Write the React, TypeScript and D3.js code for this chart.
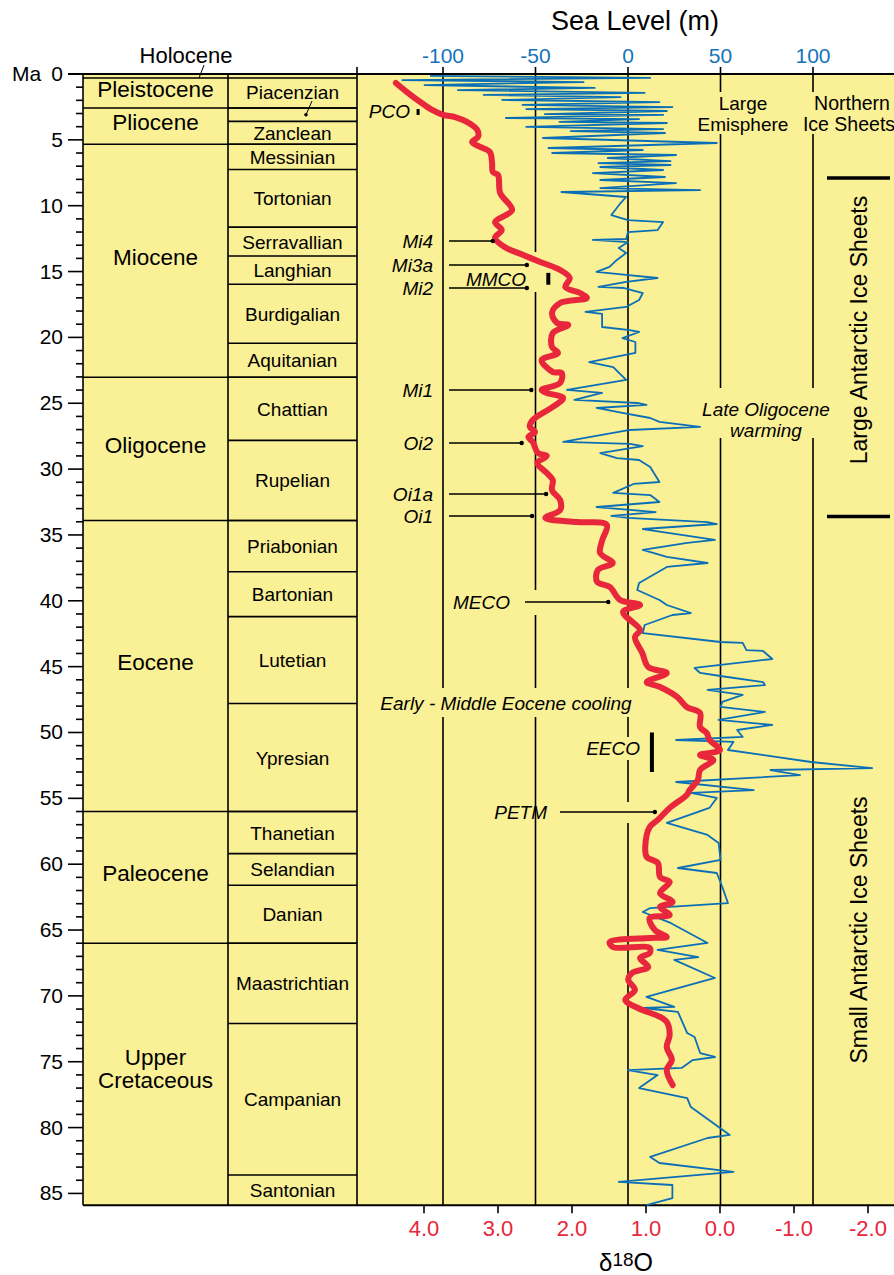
import React from "react";
import * as d3 from "d3";

const W = 894;
const H = 1275;
const FF = "'Liberation Sans', Arial, Helvetica, sans-serif";
const YELLOW = "#faf096";
const RED = "#e8263c";
const BLUE = "#0b6fb8";
const BLUE_TXT = "#1673bb";

// ---- Geologic time scale (Ma) ----
const epochNames = ["Holocene", "Pleistocene", "Pliocene", "Miocene", "Oligocene", "Eocene", "Paleocene", "Upper Cretaceous"];
const epochBase = [0.0117, 2.58, 5.333, 23.03, 33.9, 56.0, 66.0, 85.9];
const stageNames = ["", "Piacenzian", "Zanclean", "Messinian", "Tortonian", "Serravallian", "Langhian", "Burdigalian", "Aquitanian", "Chattian", "Rupelian", "Priabonian", "Bartonian", "Lutetian", "Ypresian", "Thanetian", "Selandian", "Danian", "Maastrichtian", "Campanian", "Santonian"];
const stageBase = [2.58, 3.6, 5.333, 7.246, 11.63, 13.82, 15.97, 20.44, 23.03, 27.82, 33.9, 37.8, 41.2, 47.8, 56.0, 59.2, 61.6, 66.0, 72.1, 83.6, 85.9];

// ---- Axes ----
const ageTicks = d3.range(0, 86, 1);
const ageLabels = d3.range(0, 86, 5);
const seaTicks = [-100, -50, 0, 50, 100];
const d18OTicks = [4, 3, 2, 1, 0, -1, -2];

// ---- δ18O curve [age Ma, δ18O ‰] ----
const d18OCurve: [number, number][] = [
  [0.68, 4.38], [1.37, 4.23], [2.13, 4.05], [2.73, 3.89], [3.11, 3.74], [3.27, 3.58], [3.64, 3.42], [4.25, 3.28],
  [4.78, 3.27], [5.16, 3.35], [5.54, 3.24], [5.92, 3.11], [6.76, 3.08], [7.44, 3.07], [7.67, 3.0], [9.04, 2.97],
  [10.33, 2.81], [11.24, 3.04], [11.85, 2.95], [12.45, 3.04], [13.14, 2.91], [13.74, 2.66], [14.27, 2.43], [14.88, 2.16],
  [15.49, 2.03], [16.17, 2.09], [16.63, 1.89], [17.01, 1.8], [17.39, 2.16], [18.15, 2.27], [18.91, 2.2], [19.06, 2.05],
  [19.67, 2.26], [20.73, 2.27], [21.18, 2.19], [21.72, 2.41], [22.63, 2.26], [22.7, 2.14], [23.46, 2.16], [23.99, 2.41],
  [24.22, 2.34], [24.6, 2.12], [25.28, 2.26], [26.27, 2.53], [26.8, 2.57], [27.18, 2.5], [27.56, 2.59], [27.94, 2.53],
  [28.78, 2.46], [29.0, 2.34], [29.54, 2.47], [30.3, 2.34], [30.83, 2.26], [31.59, 2.27], [32.35, 2.16], [33.11, 2.16],
  [33.71, 2.36], [34.02, 1.93], [34.24, 1.53], [35.38, 1.59], [36.37, 1.62], [37.13, 1.45], [37.66, 1.65], [38.57, 1.66],
  [38.95, 1.49], [39.94, 1.35], [40.32, 1.08], [40.85, 1.31], [42.22, 1.08], [42.75, 1.15], [43.96, 1.05], [45.03, 0.97],
  [45.48, 0.72], [46.17, 0.99], [46.55, 0.81], [47.3, 0.58], [48.06, 0.45], [48.52, 0.27], [49.58, 0.27], [50.04, 0.18],
  [50.57, 0.14], [51.33, 0.0], [51.71, 0.27], [52.09, 0.09], [52.85, 0.27], [53.61, 0.3], [54.37, 0.41], [54.75, 0.45],
  [55.73, 0.68], [56.64, 0.84], [57.18, 0.95], [58.69, 1.01], [59.45, 0.99], [59.91, 0.84], [60.97, 0.81], [61.35, 0.68],
  [62.19, 0.81], [62.87, 0.64], [63.25, 0.81], [63.86, 0.68], [64.09, 0.95], [65.0, 0.88], [65.53, 0.72], [65.6, 0.95],
  [65.91, 1.49], [66.29, 1.45], [66.35, 0.95], [66.74, 0.95], [67.12, 1.08], [67.81, 0.97], [68.26, 1.19], [68.79, 1.24],
  [69.55, 1.15], [70.31, 1.28], [70.92, 1.11], [71.6, 0.81], [71.98, 0.72], [72.97, 0.68], [73.88, 0.72], [74.87, 0.65],
  [75.63, 0.72], [76.77, 0.64],
];

// ---- Sea level curve [age Ma, sea level m] ----
const seaLevelCurve: [number, number][] = [
  [0.15, -107], [0.3, 12], [0.46, -122], [0.61, -24], [0.84, -110], [1.06, -18], [1.22, -92], [1.44, 9],
  [1.59, -78], [1.75, -4], [1.97, -68], [2.13, 17], [2.35, -57], [2.51, 24], [2.66, -55], [2.81, 21],
  [3.04, -45], [3.11, 19], [3.34, -66], [3.42, 6], [3.64, -37], [3.72, 21], [4.02, -55], [4.18, 19],
  [4.33, -31], [4.48, 20], [4.86, -46], [5.24, 48], [5.62, -43], [5.77, 8], [6.0, -41], [6.15, 26],
  [6.38, -11], [6.61, 23], [6.76, -16], [6.91, 23], [7.06, -15], [7.29, 19], [7.52, -19], [7.82, 20],
  [8.05, -15], [8.28, 26], [8.66, -15], [8.81, 39], [8.96, -36], [9.34, -1], [9.8, -4], [10.71, -9],
  [11.09, 0], [11.24, 19], [11.85, 16], [12.0, 0], [12.53, -1], [12.6, -19], [12.76, 0], [13.21, -5],
  [13.59, -1], [14.12, -6], [14.65, -10], [15.03, -17], [15.26, -1], [15.49, 16], [15.79, -1], [16.17, -16],
  [16.25, -2], [16.63, 8], [17.16, 6], [17.69, -1], [18.07, -23], [18.22, -14], [19.21, -14], [19.44, 1],
  [19.59, 6], [20.05, -3], [20.35, 4], [21.18, 4], [21.87, -21], [22.25, -8], [23.23, -1], [23.99, -33],
  [24.22, -14], [24.75, -29], [24.98, 5], [25.13, 10], [25.36, -17], [25.74, -3], [26.12, 12], [26.42, 17],
  [26.8, 39], [27.03, 1], [27.64, -24], [27.94, -35], [28.09, 1], [28.25, 8], [28.78, -15], [29.16, -6],
  [29.31, 6], [29.84, 12], [30.98, 17], [31.13, 3], [31.81, -8], [31.97, 12], [32.5, 17], [32.88, -17],
  [33.26, 15], [33.56, -9], [33.71, 0], [34.02, 43], [34.17, 48], [34.55, 8], [35.38, 47], [35.61, 32],
  [36.14, 8], [36.67, 21], [37.13, 43], [37.43, 21], [38.65, 6], [39.18, 5], [39.94, 17], [40.32, 21],
  [40.93, 34], [41.08, 24], [41.84, 9], [42.45, 8], [43.13, 50], [43.2, 62], [43.74, 64], [43.81, 73],
  [44.42, 78], [45.1, 36], [45.48, 39], [45.71, 50], [46.17, 73], [46.4, 74], [46.77, 43], [47.15, 62],
  [47.68, 51], [48.06, 50], [48.44, 74], [49.05, 49], [49.43, 78], [49.81, 59], [50.34, 62], [50.57, 26],
  [50.72, 57], [51.33, 54], [52.24, 99], [52.7, 132], [52.85, 77], [53.23, 93], [53.76, 26], [54.37, 68],
  [54.59, 34], [54.97, 48], [55.73, 44], [56.87, 21], [57.78, 43], [58.39, 49], [59.68, 50], [60.29, 27],
  [60.67, 48], [61.73, 51], [62.95, 54], [63.33, 12], [63.63, 8], [64.46, 23], [65.98, 43], [66.51, 16],
  [67.05, 38], [67.27, 25], [68.64, 47], [70.08, 10], [70.84, 25], [70.92, 8], [71.22, 27], [72.82, 32],
  [73.12, 36], [74.34, 39], [74.64, 47], [74.87, 35], [75.47, 29], [75.63, 0], [76.01, 16], [77.0, 6],
  [77.76, 32], [78.44, 34], [80.56, 55], [80.79, 43], [82.23, 12], [82.69, 17], [83.37, 57], [84.13, -5],
  [84.36, 24], [85.35, 24], [85.88, 10],
];

// ---- Events (arrows to δ18O curve) ----
const eventNames = ["Mi4", "Mi3a", "Mi2", "Mi1", "Oi2", "Oi1a", "Oi1"];
const eventAge = [12.68, 14.5, 16.25, 23.99, 28.02, 31.89, 33.56];
const eventD18O = [3.07, 2.61, 2.61, 2.55, 2.68, 2.35, 2.54];
const mecoEvent = { name: "MECO", age: 40.09, d18O: 1.51 };
const petmEvent = { name: "PETM", age: 56.04, d18O: 0.88 };

// ---- Climatic optima (intervals) ----
const optimaNames = ["PCO", "MMCO", "EECO"];
const optimaStart = [2.66, 15.1, 50.0];
const optimaEnd = [3.11, 16.0, 53.0];
const optimaD18O = [4.08, 2.32, 0.92];

// ---- Ice sheet regimes ----
const largeIceStart = 7.9;
const largeIceEnd = 33.6;

export default function App() {
  const y = d3.scaleLinear().domain([0, 86]).range([74, 1206.6]);
  const xSea = d3.scaleLinear().domain([-100, 100]).range([443, 813]);
  const xD = d3.scaleLinear().domain([4, -2]).range([424, 868]);

  const top = y(0);
  const bottom = y(85.9);
  const colL = 83, colM = 228, colR = 357;
  const holoY = Math.max(y(epochBase[0]), top + 4);

  const redLine = d3.line<[number, number]>()
    .x((d) => xD(d[1]))
    .y((d) => y(d[0]))
    .curve(d3.curveCatmullRom.alpha(0.5));
  const blueLine = d3.line<[number, number]>()
    .x((d) => xSea(d[1]))
    .y((d) => y(d[0]));

  // gaps (in px) in the vertical reference lines where text passes
  const gridGaps: Record<string, [number, number][]> = {
    "-100": [[688, 717]],
    "-50": [[252, 292], [590, 615], [688, 717]],
    "0": [[688, 717], [737, 760], [802, 823]],
    "50": [[92, 134], [388, 438]],
    "100": [[92, 134], [388, 438]],
  };
  const segs = (y0: number, y1: number, gaps: [number, number][]) => {
    const out: [number, number][] = [];
    let cur = y0;
    gaps.forEach(([a, b]) => { out.push([cur, a]); cur = b; });
    out.push([cur, y1]);
    return out;
  };

  const epochTops = [0, ...epochBase.slice(0, -1)];
  const stageTops = [epochBase[0], ...stageBase.slice(0, -1)];
  const yTop = (a: number) => (a === 0 ? top : a === epochBase[0] ? holoY : y(a));

  const txt = { fontFamily: FF } as const;

  return (
    <svg width={W} height={H} viewBox={`0 0 ${W} ${H}`} style={{ position: "absolute", left: 0, top: 0, display: "block", background: "#fff" }}>
      {/* backgrounds */}
      <rect x={colL} y={top} width={W - colL} height={bottom - top} fill={YELLOW} />

      {/* vertical grid lines at sea level ticks */}
      {seaTicks.map((t) =>
        segs(67, bottom, gridGaps[String(t)]).map(([a, b], i) => (
          <line key={`g${t}-${i}`} x1={xSea(t)} x2={xSea(t)} y1={a} y2={b} stroke="#000" strokeWidth={1.6} />
        ))
      )}

      {/* time scale columns */}
      <line x1={colL} x2={colL} y1={top} y2={bottom} stroke="#000" strokeWidth={1.6} />
      <line x1={colM} x2={colM} y1={top} y2={bottom} stroke="#000" strokeWidth={1.6} />
      <line x1={colR} x2={colR} y1={67} y2={bottom} stroke="#000" strokeWidth={1.6} />
      <line x1={colL} x2={colR} y1={holoY} y2={holoY} stroke="#000" strokeWidth={1.4} />
      {epochBase.slice(1, -1).map((b, i) => (
        <line key={`eb${i}`} x1={colL} x2={colR} y1={y(b)} y2={y(b)} stroke="#000" strokeWidth={1.6} />
      ))}
      {stageBase.slice(0, -1).map((b, i) => (
        <line key={`sb${i}`} x1={colM} x2={colR} y1={y(b)} y2={y(b)} stroke="#000" strokeWidth={1.6} />
      ))}

      {/* epoch labels */}
      {epochNames.map((n, i) => {
        const t = yTop(epochTops[i]);
        const b = y(epochBase[i]);
        const cx = (colL + colM) / 2;
        if (b - t < 10) {
          return (
            <g key={`e${i}`}>
              <text x={186} y={63} textAnchor="middle" fontSize={22} style={txt}>{n}</text>
              <line x1={204} y1={65} x2={199} y2={(t + holoY) / 2 + 2} stroke="#000" strokeWidth={1} />
            </g>
          );
        }
        const words = n.split(" ");
        const cy = (t + b) / 2 - (words.length > 1 ? 6 : 4);
        return (
          <text key={`e${i}`} x={cx} textAnchor="middle" fontSize={22.5} style={txt}>
            {words.map((w, k) => (
              <tspan key={k} x={cx} y={cy + 8 + (k - (words.length - 1) / 2) * 23}>{w}</tspan>
            ))}
          </text>
        );
      })}

      {/* stage labels */}
      {stageNames.map((n, i) => {
        const t = yTop(stageTops[i]);
        const b = y(stageBase[i]);
        const cx = (colM + colR) / 2;
        if (!n) return null;
        if (b - t < 18 && i > 0 && !stageNames[i - 1]) {
          const pt = yTop(stageTops[i - 1]);
          const pb = y(stageBase[i - 1]);
          const cy = (pt + pb) / 2;
          return (
            <g key={`s${i}`}>
              <text x={cx} y={cy + 6} textAnchor="middle" fontSize={19} style={txt}>{n}</text>
              <line x1={312} y1={cy + 8} x2={306} y2={(t + b) / 2} stroke="#000" strokeWidth={1} />
              <circle cx={306} cy={(t + b) / 2} r={1.8} fill="#000" />
            </g>
          );
        }
        return (
          <text key={`s${i}`} x={cx} y={(t + b) / 2 + 7} textAnchor="middle" fontSize={19} style={txt}>{n}</text>
        );
      })}

      {/* left age axis */}
      {ageTicks.map((a) => (
        <line key={`at${a}`} x1={a % 5 === 0 ? 68 : 76} x2={colL} y1={y(a)} y2={y(a)} stroke="#000" strokeWidth={1.6} />
      ))}
      {ageLabels.map((a) => (
        <text key={`al${a}`} x={63} y={y(a) + 7} textAnchor="end" fontSize={21} style={txt}>{a}</text>
      ))}
      <text x={12} y={y(0) + 7} fontSize={21} style={txt}>Ma</text>

      {/* top axis */}
      <line x1={68} x2={W} y1={top} y2={top} stroke="#000" strokeWidth={2} />
      {seaTicks.map((t) => (
        <text key={`st${t}`} x={xSea(t)} y={63} textAnchor="middle" fontSize={21} fill={BLUE_TXT} style={txt}>{String(t)}</text>
      ))}
      <text x={635} y={30} textAnchor="middle" fontSize={27} style={txt}>Sea Level (m)</text>

      {/* bottom axis */}
      <line x1={colL} x2={W} y1={bottom} y2={bottom} stroke="#000" strokeWidth={2} />
      {d18OTicks.map((t) => (
        <g key={`dt${t}`}>
          <line x1={xD(t)} x2={xD(t)} y1={bottom} y2={bottom + 8} stroke="#000" strokeWidth={1.6} />
          <text x={xD(t)} y={1236} textAnchor="middle" fontSize={22} fill={RED} style={txt}>{t.toFixed(1)}</text>
        </g>
      ))}
      <text x={626} y={1271} textAnchor="middle" style={txt}>
        <tspan fontSize={24}>δ</tspan>
        <tspan fontSize={19} dy={-5}>18</tspan>
        <tspan fontSize={25} dy={5}>O</tspan>
      </text>

      {/* sea level curve */}
      <path d={blueLine(seaLevelCurve) || ""} fill="none" stroke={BLUE} strokeWidth={1.8} strokeLinejoin="round" />

      {/* δ18O curve */}
      <path d={redLine(d18OCurve) || ""} fill="none" stroke={RED} strokeWidth={6} strokeLinecap="round" strokeLinejoin="round" />

      {/* event arrows */}
      {eventNames.map((n, i) => {
        const yy = y(eventAge[i]);
        return (
          <g key={`ev${n}`}>
            <text x={433} y={yy + 7} textAnchor="end" fontSize={19} fontStyle="italic" style={txt}>{n}</text>
            <line x1={449} x2={xD(eventD18O[i])} y1={yy} y2={yy} stroke="#000" strokeWidth={1.6} />
            <circle cx={xD(eventD18O[i])} cy={yy} r={2.2} fill="#000" />
          </g>
        );
      })}
      {[{ ev: mecoEvent, tx: 510, lx: 525 }, { ev: petmEvent, tx: 547, lx: 560 }].map(({ ev, tx, lx }) => {
        const yy = y(ev.age);
        return (
          <g key={ev.name}>
            <text x={tx} y={yy + 7} textAnchor="end" fontSize={19} fontStyle="italic" style={txt}>{ev.name}</text>
            <line x1={lx} x2={xD(ev.d18O)} y1={yy} y2={yy} stroke="#000" strokeWidth={1.6} />
            <circle cx={xD(ev.d18O)} cy={yy} r={2.2} fill="#000" />
          </g>
        );
      })}

      {/* climatic optima */}
      {optimaNames.map((n, i) => (
        <rect key={`op${n}`} x={xD(optimaD18O[i]) - (i === 0 ? 1.5 : 2)} width={i === 0 ? 3 : 4}
          y={y(optimaStart[i])} height={y(optimaEnd[i]) - y(optimaStart[i])} fill="#000" />
      ))}
      <text x={410} y={118} textAnchor="end" fontSize={19} fontStyle="italic" style={txt}>{optimaNames[0]}</text>
      <text x={496} y={286} textAnchor="middle" fontSize={19} fontStyle="italic" style={txt}>{optimaNames[1]}</text>
      <text x={640} y={755} textAnchor="end" fontSize={19} fontStyle="italic" style={txt}>{optimaNames[2]}</text>

      <text x={506} y={710} textAnchor="middle" fontSize={19} fontStyle="italic" style={txt}>Early - Middle Eocene cooling</text>
      <text x={766} textAnchor="middle" fontSize={19} fontStyle="italic" style={txt}>
        <tspan x={766} y={416}>Late Oligocene</tspan>
        <tspan x={766} y={437}>warming</tspan>
      </text>

      <text x={743} textAnchor="middle" fontSize={19} style={txt}>
        <tspan x={743} y={110}>Large</tspan>
        <tspan x={743} y={131}>Emisphere</tspan>
      </text>
      <text x={851} textAnchor="middle" fontSize={19.5} style={txt}>
        <tspan x={852} y={110}>Northern</tspan>
        <tspan x={849} y={131}>Ice Sheets</tspan>
      </text>

      {/* ice sheet regimes */}
      <line x1={827} x2={890} y1={y(largeIceStart)} y2={y(largeIceStart)} stroke="#000" strokeWidth={3.5} />
      <line x1={827} x2={890} y1={y(largeIceEnd)} y2={y(largeIceEnd)} stroke="#000" strokeWidth={3.5} />
      <text transform="translate(867,330) rotate(-90)" textAnchor="middle" fontSize={23} style={txt}>Large Antarctic Ice Sheets</text>
      <text transform="translate(867,930) rotate(-90)" textAnchor="middle" fontSize={23} style={txt}>Small Antarctic Ice Sheets</text>
    </svg>
  );
}
